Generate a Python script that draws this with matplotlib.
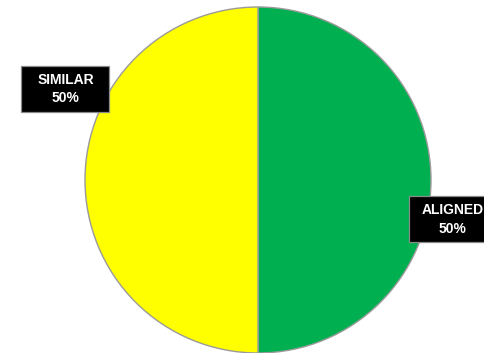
import matplotlib.pyplot as plt
from matplotlib.patches import Rectangle

categories = ['ALIGNED', 'SIMILAR']
shares = [50, 50]
colors = ['#00B050', '#FFFF00']

# label box centres in pie units (radius = 1)
label_pos = [(1.127, -0.228), (-1.113, 0.526)]
box_w, box_h = 0.509, 0.266

fig = plt.figure(figsize=(4.85, 3.53), dpi=100)
ax = fig.add_axes([0, 0, 1, 1])

wedges, _ = ax.pie(shares, colors=colors, startangle=90, counterclock=False,
                   radius=1.0, center=(0, 0),
                   wedgeprops=dict(edgecolor='#9a9a9a', linewidth=1.0))

total = sum(shares)
for name, val, (x, y) in zip(categories, shares, label_pos):
    pct = round(val / total * 100)
    ax.add_patch(Rectangle((x - box_w / 2, y - box_h / 2), box_w, box_h,
                           facecolor='black', edgecolor='#8a8a8a',
                           linewidth=0.9, zorder=3))
    ax.text(x, y, name + '\n' + str(pct) + '%', ha='center', va='center',
            color='white', fontsize=10, fontweight='bold',
            family='Liberation Sans', linespacing=1.4, zorder=4)

ax.set_xlim(-258 / 173, 227 / 173)
ax.set_ylim(-1.0, 180 / 173)
ax.set_aspect('auto')
ax.axis('off')

fig.savefig('out.png', dpi=100, facecolor='white')
